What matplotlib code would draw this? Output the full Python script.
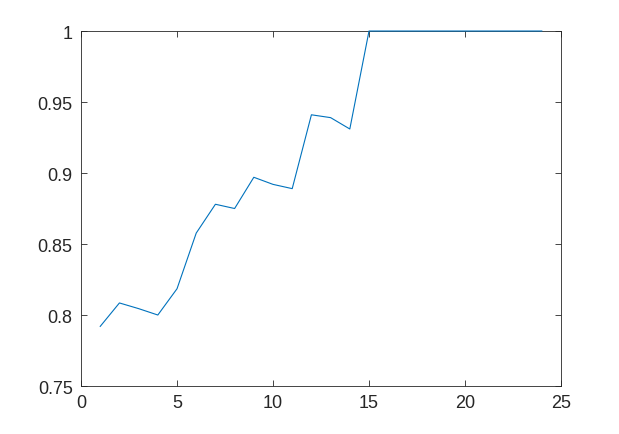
#!/usr/bin/env python3
"""Octave-style line plot of a ratio approaching 1."""

import matplotlib
matplotlib.use("Agg")
import matplotlib.pyplot as plt

x = list(range(1, 25))
y = [0.792, 0.8085, 0.8045, 0.800, 0.8185, 0.8577, 0.878, 0.875,
     0.897, 0.892, 0.889, 0.941, 0.939, 0.931,
     1.0, 1.0, 1.0, 1.0, 1.0, 1.0, 1.0, 1.0, 1.0, 1.0]

xticks = [0, 5, 10, 15, 20, 25]
yticks = [0.75, 0.8, 0.85, 0.9, 0.95, 1.0]
yticklabels = ["0.75", "0.8", "0.85", "0.9", "0.95", "1"]

plt.rcParams.update({
    "font.family": ["Liberation Sans", "DejaVu Sans"],
    "font.size": 13,
    "axes.linewidth": 0.6,
    "axes.edgecolor": "#262626",
    "xtick.color": "#262626",
    "ytick.color": "#262626",
    "xtick.direction": "in",
    "ytick.direction": "in",
    "xtick.top": True,
    "ytick.right": True,
})

fig = plt.figure(figsize=(6.19, 4.35), dpi=100)
ax = fig.add_axes([0.1309, 0.1103, 0.7754, 0.8161])
ax.plot(x, y, color="#0072BD", lw=0.8, clip_on=False, zorder=3)

ax.set_xlim(0, 25)
ax.set_ylim(0.75, 1.0)
ax.set_xticks(xticks)
ax.set_yticks(yticks)
ax.set_yticklabels(yticklabels)
ax.tick_params(length=4, width=0.6, pad=6)

fig.savefig("out.png", dpi=100)
